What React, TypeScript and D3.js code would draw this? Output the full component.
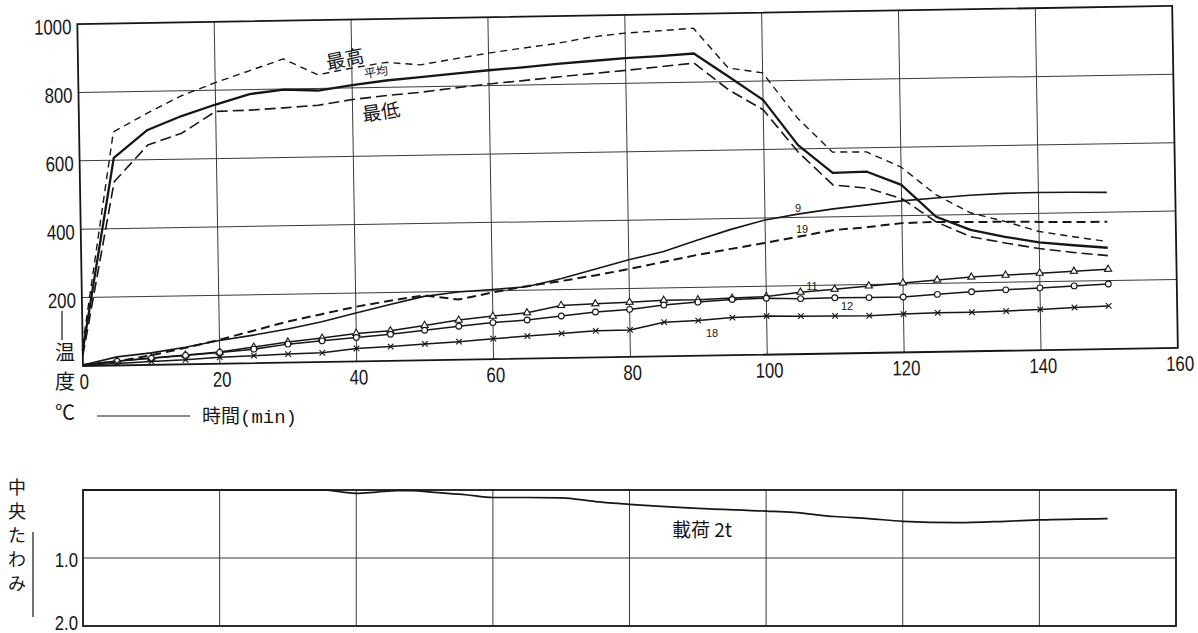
import React, { useEffect, useRef } from 'react';
import * as d3 from 'd3';

// time axis (min), readings every 5 minutes
const minutes = [0, 5, 10, 15, 20, 25, 30, 35, 40, 45, 50, 55, 60, 65, 70, 75, 80, 85, 90, 95, 100, 105, 110, 115, 120, 125, 130, 135, 140, 145, 150];

// furnace temperature (°C)
const maxTemp = [60, 683, 736, 785, 822, 855, 888, 840, 858, 873, 864, 880, 895, 908, 920, 937, 947, 952, 958, 840, 824, 690, 589, 588, 542, 460, 405, 378, 347, 330, 314];
const avgTemp = [45, 607, 687, 726, 758, 787, 798, 794, 808, 820, 828, 837, 845, 852, 860, 867, 874, 878, 884, 815, 745, 611, 528, 530, 490, 395, 355, 333, 315, 305, 296];
const minTemp = [30, 537, 643, 676, 738, 740, 745, 751, 766, 776, 784, 795, 805, 813, 822, 830, 838, 847, 856, 776, 716, 591, 493, 482, 450, 380, 335, 315, 297, 284, 273];

// measuring points 9, 19, 11, 12, 18
const point9 = [3, 25, 35, 50, 68, 82, 98, 118, 142, 165, 187, 198, 204, 210, 232, 258, 284, 306, 338, 368, 394, 410, 423, 433, 443, 450, 456, 460, 461, 460, 458];
const point19 = [3, 12, 28, 48, 70, 95, 120, 140, 160, 176, 190, 176, 195, 212, 225, 240, 257, 276, 295, 311, 327, 344, 361, 368, 378, 380, 378, 377, 375, 373, 372];
const point11 = [3, 13, 20, 27, 34, 47, 60, 70, 82, 88, 102, 116, 126, 134, 154, 157, 160, 164, 164, 167, 170, 181, 188, 196, 203, 210, 217, 221, 225, 229, 233];
const point12 = [3, 12, 19, 26, 33, 41, 54, 62, 70, 78, 88, 98, 107, 113, 123, 133, 139, 150, 157, 163, 165, 162, 163, 162, 162, 168, 174, 178, 182, 186, 190];
const point18 = [3, 6, 10, 13, 19, 22, 25, 27, 38, 42, 48, 53, 60, 66, 72, 78, 79, 100, 103, 110, 113, 111, 110, 109, 112, 114, 114, 116, 119, 123, 126];

const timeTicks = [0, 20, 40, 60, 80, 100, 120, 140, 160];
const tempTicks = [200, 400, 600, 800, 1000];

// central deflection under 2t load
const deflMinutes = [0, 10, 20, 30, 35, 38, 40, 43, 46, 48, 52, 56, 60, 65, 70, 75, 80, 90, 100, 104, 110, 115, 120, 128, 135, 140, 150];
const deflection = [0, 0, 0, 0, 0, 0.03, 0.05, 0.03, 0.01, 0.01, 0.04, 0.07, 0.11, 0.11, 0.115, 0.17, 0.21, 0.27, 0.31, 0.33, 0.39, 0.42, 0.46, 0.48, 0.46, 0.44, 0.42];
const deflTicks = [1.0, 2.0];

const ink = '#161616';
const gridInk = '#3a3a3a';
const digitFont = '"Liberation Sans", Arial, sans-serif';
const cjkFont = '"Noto Sans CJK JP", "Noto Sans CJK SC", sans-serif';

export default function App() {
  const svgRef = useRef<SVGSVGElement>(null);

  useEffect(() => {
    const width = 1198;
    const height = 633;
    const svg = d3.select(svgRef.current)
      .attr('width', width)
      .attr('height', height)
      .attr('viewBox', [0, 0, width, height].join(' '));
    svg.selectAll('*').remove();

    svg.append('rect').attr('width', width).attr('height', height).attr('fill', '#fff');

    // ---- temperature chart (the scan is turned by about one degree)
    const x = d3.scaleLinear().domain([0, 160]).range([83, 1178]);
    const y = d3.scaleLinear().domain([0, 1000]).range([366, 24]);

    const top = svg.append('g').attr('transform', `rotate(-0.95 ${x(0)} ${y(0)})`);

    top.append('g')
      .selectAll('line')
      .data(timeTicks.slice(1, -1))
      .join('line')
      .attr('x1', d => x(d)).attr('x2', d => x(d))
      .attr('y1', y(1000)).attr('y2', y(0))
      .attr('stroke', gridInk).attr('stroke-width', 1);

    top.append('g')
      .selectAll('line')
      .data(tempTicks.slice(0, -1))
      .join('line')
      .attr('x1', x(0)).attr('x2', x(160))
      .attr('y1', d => y(d)).attr('y2', d => y(d))
      .attr('stroke', gridInk).attr('stroke-width', 1);

    top.append('rect')
      .attr('x', x(0)).attr('y', y(1000))
      .attr('width', x(160) - x(0)).attr('height', y(0) - y(1000))
      .attr('fill', 'none').attr('stroke', ink).attr('stroke-width', 1.8);

    top.append('g')
      .selectAll('text')
      .data(tempTicks)
      .join('text')
      .attr('transform', d => `translate(${x(0) - 6},${y(d) + 10}) scale(0.8,1)`)
      .attr('text-anchor', 'end')
      .attr('font-family', digitFont).attr('font-size', 21).attr('fill', ink)
      .text(d => d);

    top.append('g')
      .selectAll('text')
      .data(timeTicks)
      .join('text')
      .attr('transform', d => `translate(${x(d) + (d === 0 ? 1 : 2)},${y(0) + 23}) scale(0.8,1)`)
      .attr('text-anchor', 'middle')
      .attr('font-family', digitFont).attr('font-size', 21).attr('fill', ink)
      .text(d => d);

    const line = d3.line<number>()
      .x((d, i) => x(minutes[i]))
      .y(d => y(d));

    const series = [
      { values: maxTemp, width: 1.4, dash: '7 5' },
      { values: minTemp, width: 1.6, dash: '11 5' },
      { values: avgTemp, width: 2.3, dash: null },
      { values: point9, width: 1.6, dash: null },
      { values: point19, width: 2, dash: '9 5' },
      { values: point11, width: 1.5, dash: null },
      { values: point12, width: 1.5, dash: null },
      { values: point18, width: 1.5, dash: null },
    ];

    top.append('g')
      .selectAll('path')
      .data(series)
      .join('path')
      .attr('d', d => line(d.values))
      .attr('fill', 'none')
      .attr('stroke', ink)
      .attr('stroke-width', d => d.width)
      .attr('stroke-dasharray', d => d.dash)
      .attr('stroke-linejoin', 'round');

    const markerSets = [
      { values: point11, symbol: d3.symbolTriangle, size: 22 },
      { values: point12, symbol: d3.symbolCircle, size: 26 },
      { values: point18, symbol: d3.symbolTimes, size: 22 },
    ];

    markerSets.forEach(m => {
      top.append('g')
        .selectAll('path')
        .data(m.values.slice(1))
        .join('path')
        .attr('transform', (d, i) => `translate(${x(minutes[i + 1])},${y(d)})`)
        .attr('d', d3.symbol().type(m.symbol).size(m.size)())
        .attr('fill', m.symbol === d3.symbolTimes ? 'none' : '#fff')
        .attr('stroke', ink)
        .attr('stroke-width', 1.1);
    });

    // curve labels
    const labels = [
      { text: '最高', cx: 345, cy: 59, size: 19, angle: -12 },
      { text: '平均', cx: 376, cy: 72, size: 12, angle: -10 },
      { text: '最低', cx: 381, cy: 112, size: 19, angle: -8 },
      { text: '9', cx: 798, cy: 208, size: 11, angle: 0 },
      { text: '19', cx: 802, cy: 229, size: 11, angle: 0 },
      { text: '11', cx: 812, cy: 286, size: 11, angle: 0 },
      { text: '12', cx: 847, cy: 306, size: 11, angle: 0 },
      { text: '18', cx: 712, cy: 333, size: 11, angle: 0 },
    ];

    svg.append('g')
      .selectAll('text')
      .data(labels)
      .join('text')
      .attr('transform', d => `translate(${d.cx},${d.cy}) rotate(${d.angle})`)
      .attr('y', d => d.size * 0.36)
      .attr('text-anchor', 'middle')
      .attr('font-family', d => (/\d/.test(d.text) ? digitFont : cjkFont))
      .attr('font-size', d => d.size)
      .attr('fill', ink)
      .text(d => d.text);

    // axis titles of the temperature chart
    svg.append('line')
      .attr('x1', 62).attr('x2', 62).attr('y1', 311).attr('y2', 340)
      .attr('stroke', ink).attr('stroke-width', 1.2);

    svg.append('g')
      .selectAll('text')
      .data(['温', '度', '℃'])
      .join('text')
      .attr('x', 65)
      .attr('y', (d, i) => [353, 382, 413][i] + 7)
      .attr('text-anchor', 'middle')
      .attr('font-family', cjkFont).attr('font-size', 20).attr('fill', ink)
      .text(d => d);

    svg.append('line')
      .attr('x1', 97).attr('x2', 190).attr('y1', 416).attr('y2', 416)
      .attr('stroke', ink).attr('stroke-width', 1.2);

    const timeTitle = svg.append('text')
      .attr('x', 202).attr('y', 423)
      .attr('font-family', cjkFont).attr('font-size', 19).attr('fill', ink);
    timeTitle.append('tspan').text('時間');
    timeTitle.append('tspan')
      .attr('font-family', '"Liberation Mono", monospace')
      .text('(min)');

    // ---- deflection chart
    const xb = d3.scaleLinear().domain([0, 160]).range([83, 1176]);
    const yb = d3.scaleLinear().domain([0, 2]).range([490, 626]);

    const bottom = svg.append('g');

    bottom.append('g')
      .selectAll('line')
      .data(timeTicks.slice(1, -1))
      .join('line')
      .attr('x1', d => xb(d)).attr('x2', d => xb(d))
      .attr('y1', yb(0)).attr('y2', yb(2))
      .attr('stroke', gridInk).attr('stroke-width', 1);

    bottom.append('g')
      .selectAll('line')
      .data(deflTicks.slice(0, -1))
      .join('line')
      .attr('x1', xb(0)).attr('x2', xb(160))
      .attr('y1', d => yb(d)).attr('y2', d => yb(d))
      .attr('stroke', gridInk).attr('stroke-width', 1.2);

    bottom.append('rect')
      .attr('x', xb(0)).attr('y', yb(0))
      .attr('width', xb(160) - xb(0)).attr('height', yb(2) - yb(0))
      .attr('fill', 'none').attr('stroke', ink).attr('stroke-width', 1.8);

    bottom.append('g')
      .selectAll('text')
      .data(deflTicks)
      .join('text')
      .attr('transform', d => `translate(${xb(0) - 5},${yb(d) + (d === 2 ? 4 : 9)}) scale(0.8,1)`)
      .attr('text-anchor', 'end')
      .attr('font-family', digitFont).attr('font-size', 21).attr('fill', ink)
      .text(d => d.toFixed(1));

    const deflLine = d3.line<number>()
      .x((d, i) => xb(deflMinutes[i]))
      .y(d => yb(d))
      .curve(d3.curveMonotoneX);

    bottom.append('path')
      .attr('d', deflLine(deflection))
      .attr('fill', 'none')
      .attr('stroke', ink)
      .attr('stroke-width', 1.7);

    bottom.append('text')
      .attr('x', 672).attr('y', 537)
      .attr('font-family', cjkFont).attr('font-size', 19).attr('fill', ink)
      .text('載荷 2t');

    bottom.append('g')
      .selectAll('text')
      .data(['中', '央', 'た', 'わ', 'み'])
      .join('text')
      .attr('x', 17)
      .attr('y', (d, i) => 487 + i * 24 + 7)
      .attr('text-anchor', 'middle')
      .attr('font-family', cjkFont).attr('font-size', 18).attr('fill', ink)
      .text(d => d);

    bottom.append('line')
      .attr('x1', 33).attr('x2', 33).attr('y1', 532).attr('y2', 617)
      .attr('stroke', ink).attr('stroke-width', 1.2);
  }, []);

  return (
    <svg ref={svgRef} style={{ position: 'absolute', left: 0, top: 0 }}></svg>
  );
}
